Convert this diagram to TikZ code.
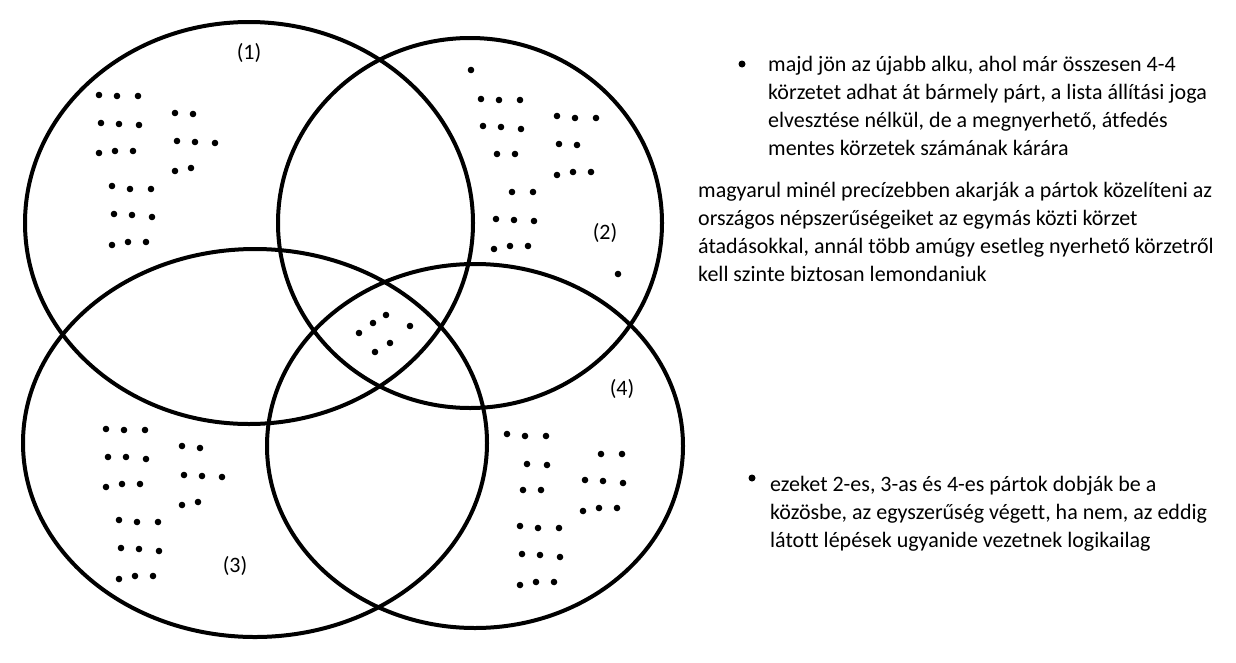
\documentclass[tikz,border=0pt]{standalone}
\usepackage{fontspec}
\setmainfont{Carlito}[Ligatures=NoCommon]
\usetikzlibrary{positioning}
\tikzset{
  ring/.style={draw, line width=4pt},
  vote/.style={fill, black},
  lbl/.style={inner sep=0pt, font=\fontsize{22}{28}\selectfont},
  para/.style={inner sep=0pt, align=left, anchor=base west,
    font=\fontsize{22}{28}\selectfont},
  bullet/.style={circle, fill, inner sep=0pt, minimum size=7pt},
}
\begin{document}
\begin{tikzpicture}[x=1pt, y=-1pt]

  \useasboundingbox (0,0) rectangle (1236,662);

  % Define centres
  \coordinate (c1) at (249,223);
  \coordinate (c2) at (470,223);
  \coordinate (c3) at (255,443);
  \coordinate (c4) at (475,446);

  % Rings
  \draw[ring] (c1) ellipse [x radius=224pt, y radius=201pt];
  \draw[ring] (c2) ellipse [x radius=192pt, y radius=185pt];
  \draw[ring] (c3) ellipse [x radius=232pt, y radius=194pt];
  \draw[ring] (c4) ellipse [x radius=208pt, y radius=182pt];

  % Labels
  \node[lbl] (l1) at (249,53) {(1)};
  \node[lbl] (l2) at (605,233) {(2)};
  \node[lbl] (l3) at (235,566) {(3)};
  \node[lbl] (l4) at (622,389) {(4)};

  % Districts
  \foreach \p in {(99,95),(117,96),(138,96),(101,123),(119,124),(139,125),
      (99,153),(115,151),(133,151),(175,113),(193,114),(177,141),(195,142),
      (215,143),(175,171),(191,168),(112,186),(130,189),(151,189),(114,214),
      (132,215),(152,217),(112,245),(128,242),(146,242)}
    \fill[vote] \p circle (3.3pt);
  \foreach \p in {(471,70),(481,99),(499,100),(520,100),(483,126),(501,127),
      (521,129),(497,154),(515,154),(512,192),(533,192),(496,219),(514,220),
      (534,221),(494,249),(510,246),(528,246),(557,116),(575,118),(596,118),
      (559,144),(577,145),(557,175),(573,172),(591,172),(618,274)}
    \fill[vote] \p circle (3.3pt);
  \foreach \p in {(359,333),(373,323),(386,315),(410,326),(390,343),(375,352)}
    \fill[vote] \p circle (3.3pt);
  \foreach \p in {(106,429),(124,430),(145,430),(108,457),(126,457),(146,459),
      (106,487),(122,484),(140,484),(182,446),(200,448),(184,475),(202,476),
      (222,477),(182,505),(198,502),(119,520),(137,522),(158,522),(121,548),
      (139,549),(159,551),(119,579),(135,576),(153,576)}
    \fill[vote] \p circle (3.3pt);
  \foreach \p in {(507,434),(525,436),(546,436),(527,464),(547,465),(523,490),
      (541,490),(520,526),(538,528),(559,528),(522,554),(540,555),(560,557),
      (520,585),(536,582),(554,582),(601,454),(622,454),(585,480),(603,481),
      (623,483),(583,511),(599,508),(617,508)}
    \fill[vote] \p circle (3.3pt);

  % Notes (base = last line)
  \node[bullet] (b1) at (742,64) {};
  \node[para] (t1) at (768,155) {majd jön az újabb alku, ahol már összesen 4-4\\
    körzetet adhat át bármely párt, a lista állítási joga\\
    elvesztése nélkül, de a megnyerhető, átfedés\\
    mentes körzetek számának kárára};
  \node[para] (t2) at (698,281) {magyarul minél precízebben akarják a pártok közelíteni az\\
    országos népszerűségeiket az egymás közti körzet\\
    átadásokkal, annál több amúgy esetleg nyerhető körzetről\\
    kell szinte biztosan lemondaniuk};
  \node[bullet] (b3) at (752,478) {};
  \node[para] (t3) at (770,547) {ezeket 2-es, 3-as és 4-es pártok dobják be a\\
    közösbe, az egyszerűség végett, ha nem, az eddig\\
    látott lépések ugyanide vezetnek logikailag};

\end{tikzpicture}
\end{document}
